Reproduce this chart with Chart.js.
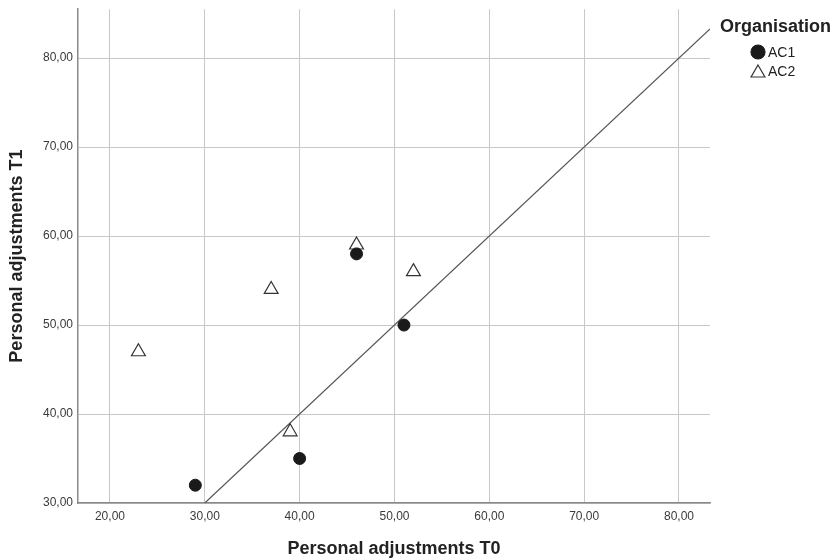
<!DOCTYPE html>
<html>
<head>
<meta charset="utf-8">
<script src="https://cdn.jsdelivr.net/npm/chart.js@4"></script>
<style>
  html, body { margin: 0; padding: 0; background: #fff; }
  #wrap { width: 832px; height: 560px; }
</style>
</head>
<body>
<div id="wrap"><canvas id="myChart" width="832" height="560"></canvas></div>
<script>
const ctx = document.getElementById("myChart").getContext("2d");

// values
const ac1T0 = [29, 40, 46, 51];
const ac1T1 = [32, 35, 58, 50];
const ac2T0 = [23, 37, 46, 52, 39];
const ac2T1 = [47, 54, 59, 56, 38];

const xTicks = [20, 30, 40, 50, 60, 70, 80];
const yTicks = [30, 40, 50, 60, 70, 80];
const xMin = 16.63, xMax = 83.27;
const yMin = 30, yMax = 85.5;

const fontFam = "'Liberation Sans', Arial, Helvetica, sans-serif";

const toPoints = (xs, ys) => xs.map((x, i) => ({ x: x, y: ys[i] }));
const fmt = (v) => v.toFixed(2).replace('.', ',');

// reference line y = x from 30 up to the right edge
const refLine = [{ x: 30, y: 30 }, { x: xMax, y: xMax }];

const legendItems = [
    { label: 'AC1', pointStyle: 'circle', radius: 7, bg: '#1a1a1a', border: '#1a1a1a' },
    { label: 'AC2', pointStyle: 'triangle', radius: 8, bg: '#ffffff', border: '#333333' },
];

const legendPlugin = {
    id: 'sideLegend',
    afterDraw(chart) {
        const c = chart.ctx;
        c.save();
        c.fillStyle = '#222';
        c.textBaseline = 'middle';
        c.font = "bold 18px " + fontFam;
        c.fillText('Organisation', 720, 27);
        c.font = "14px " + fontFam;
        legendItems.forEach((it, i) => {
            const y = 52 + i * 19;
            c.fillStyle = it.bg;
            c.strokeStyle = it.border;
            c.lineWidth = 1.2;
            Chart.helpers.drawPoint(c, { pointStyle: it.pointStyle, radius: it.radius, rotation: 0, borderWidth: 1.2 }, 758, y + (it.pointStyle === 'triangle' ? 2 : 0));
            c.fillStyle = '#222';
            c.fillText(it.label, 768, y + 1);
        });
        c.restore();
    }
};

const data = {
    datasets: [
        {
            label: 'AC1',
            data: toPoints(ac1T0, ac1T1),
            pointStyle: 'circle',
            radius: 6,
            backgroundColor: '#1a1a1a',
            borderColor: '#1a1a1a',
            borderWidth: 1,
        },
        {
            label: 'AC2',
            data: toPoints(ac2T0, ac2T1),
            pointStyle: 'triangle',
            radius: 8,
            backgroundColor: '#ffffff',
            borderColor: '#333333',
            borderWidth: 1.2,
        },
        {
            label: 'ref',
            type: 'line',
            data: refLine,
            showLine: true,
            radius: 0,
            borderColor: '#555555',
            borderWidth: 1.2,
            fill: false,
        }
    ]
};

const config = {
    type: 'scatter',
    data: data,
    plugins: [legendPlugin],
    options: {
        responsive: false,
        animation: false,
        events: [],
        layout: { padding: { left: 0, right: 122, top: 8, bottom: 0 } },
        plugins: {
            legend: { display: false },
            tooltip: { enabled: false },
        },
        scales: {
            x: {
                type: 'linear',
                min: xMin,
                max: xMax,
                afterBuildTicks: (scale) => { scale.ticks = xTicks.map(v => ({ value: v })); },
                afterFit: (scale) => {
                    scale.height = 57;
                    scale.paddingLeft = 0;
                    scale.paddingRight = 0;
                },
                grid: { color: '#c8c8cc', lineWidth: 1, drawTicks: false },
                border: { display: true, color: '#8a8a8a', width: 1.5 },
                ticks: {
                    padding: 6,
                    color: '#3a3a3a',
                    font: { family: fontFam, size: 12 },
                    maxRotation: 0,
                    callback: (v) => fmt(v),
                },
                title: {
                    display: true,
                    text: 'Personal adjustments T0',
                    color: '#222',
                    font: { family: fontFam, size: 18, weight: 'bold' },
                    padding: { top: 0, bottom: 0 },
                },
            },
            y: {
                type: 'linear',
                min: yMin,
                max: yMax,
                afterBuildTicks: (scale) => { scale.ticks = yTicks.map(v => ({ value: v })); },
                afterFit: (scale) => {
                    scale.width = 78;
                    scale.paddingTop = 0;
                    scale.paddingBottom = 0;
                },
                grid: { color: '#c8c8cc', lineWidth: 1, drawTicks: false },
                border: { display: true, color: '#8a8a8a', width: 1.5 },
                ticks: {
                    padding: 5,
                    color: '#3a3a3a',
                    font: { family: fontFam, size: 12 },
                    callback: (v) => fmt(v),
                },
                title: {
                    display: true,
                    text: 'Personal adjustments T1',
                    color: '#222',
                    font: { family: fontFam, size: 18, weight: 'bold' },
                    padding: { top: 6, bottom: 0 },
                },
            },
        },
    },
};

const myChart = new Chart(ctx, config);
</script>
</body>
</html>
